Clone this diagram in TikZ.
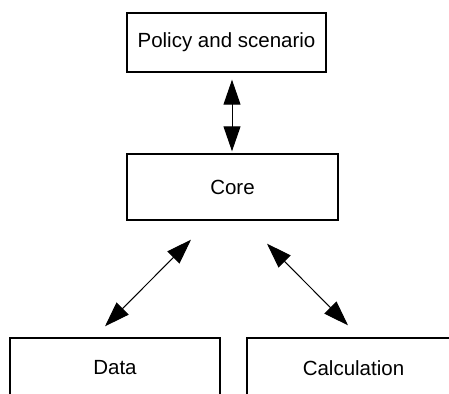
\documentclass[tikz,border=0pt]{standalone}
\usepackage{fontspec}
\setmainfont{Liberation Sans}
\usetikzlibrary{arrows.meta}
\begin{document}
\begin{tikzpicture}[x=1pt,y=-1pt,
  box/.style={draw=black,line width=1.4pt,inner sep=0pt,
    font=\fontsize{20.5}{24}\selectfont},
  link/.style={line width=1pt,{Triangle[length=25pt,width=17pt]}-{Triangle[length=25pt,width=17pt]}}]
  \useasboundingbox (0,0) rectangle (449,393);
  \clip (0,0) rectangle (449,393);
  \node[box,minimum width=199pt,minimum height=59pt] (policy) at (226.5,42.5) {Policy and scenario};
  \node[box,minimum width=211pt,minimum height=66pt] (core) at (232.5,187) {Core};
  \node[box,minimum width=210pt,minimum height=60pt] (data) at (115,368) {Data};
  \node[box,minimum width=213pt,minimum height=60pt] (calc) at (353.5,368) {Calculation};
  \draw[link] ([xshift=5.5pt,yshift=-7pt]policy.south) -- ([xshift=-0.5pt,yshift=2pt]core.north);
  \draw[link] ([xshift=-41.5pt,yshift=-19pt]core.south) -- ([xshift=-10pt,yshift=11pt]data.north);
  \draw[link] ([xshift=34.5pt,yshift=-23pt]core.south) -- ([xshift=-5.5pt,yshift=12pt]calc.north);
\end{tikzpicture}
\end{document}
